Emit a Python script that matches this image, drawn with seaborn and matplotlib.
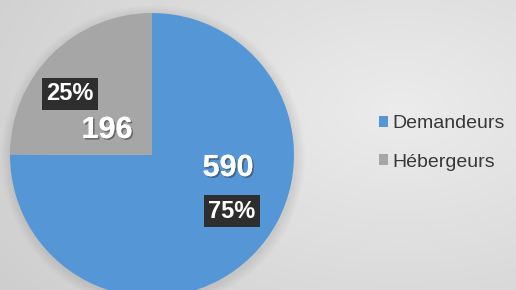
import numpy as np
import matplotlib
matplotlib.use("Agg")
import matplotlib.pyplot as plt
import matplotlib.patheffects as pe
from matplotlib.patches import Circle
import seaborn as sns

# ---- data ----
categories = ["Demandeurs", "Hébergeurs"]
values = [590, 196]
pct_labels = ["75%", "25%"]
colors = ["#5597D6", "#A6A6A6"]

sns.set_style("white")
plt.rcParams["font.family"] = ["Liberation Sans", "DejaVu Sans"]

W, H = 516, 290
fig = plt.figure(figsize=(W / 100, H / 100), dpi=100)

# background gradient
bg = fig.add_axes([0, 0, 1, 1], zorder=0)
yy, xx = np.mgrid[0:H, 0:W]
d = np.sqrt(((xx - 400) / 420.0) ** 2 + ((yy - 110) / 260.0) ** 2)
shade = 0.925 - 0.10 * d
shade = np.clip(shade, 0.78, 0.93)
bg.imshow(np.dstack([shade] * 3), extent=(0, W, 0, H), origin="upper", aspect="auto")
bg.set_axis_off()

ax = fig.add_axes([0, 0, 1, 1], zorder=1)
ax.patch.set_alpha(0)
cx, cy, r = 152, H - 155, 142

# soft shadow
for i in range(10):
    ax.add_patch(Circle((cx + 1, cy - 2), r + 10 - i, color="#808080", alpha=0.02, lw=0))

wedges, _ = ax.pie(values, colors=colors, startangle=90, counterclock=False,
                   center=(cx, cy), radius=r, frame=True,
                   wedgeprops=dict(linewidth=0))
ax.set_xlim(0, W)
ax.set_ylim(0, H)
ax.set_aspect("auto")
ax.set_axis_off()

shadow = [pe.withSimplePatchShadow(offset=(1.2, -1.2), shadow_rgbFace="#333333", alpha=0.5), pe.Normal()]

# value labels
ax.text(228, H - 168, str(values[0]), color="white", fontsize=22, fontweight="bold",
        ha="center", va="center", path_effects=shadow)
ax.text(107, H - 130, str(values[1]), color="white", fontsize=22, fontweight="bold",
        ha="center", va="center", path_effects=shadow)

boxstyle = dict(boxstyle="square,pad=0.2", facecolor="#2e2e2e", edgecolor="none")
ax.text(232, H - 211, pct_labels[0], color="white", fontsize=17, fontweight="bold",
        ha="center", va="center", bbox=boxstyle)
ax.text(70, H - 94, pct_labels[1], color="white", fontsize=17, fontweight="bold",
        ha="center", va="center", bbox=boxstyle)

# legend
ax.legend(wedges, categories, loc="center left", bbox_to_anchor=(361 / W, 1 - 143 / H),
          frameon=False, fontsize=14, handlelength=0.5, handleheight=0.5,
          handletextpad=0.2, labelspacing=1.1, labelcolor="#383838")

fig.savefig("out.png", dpi=100)
